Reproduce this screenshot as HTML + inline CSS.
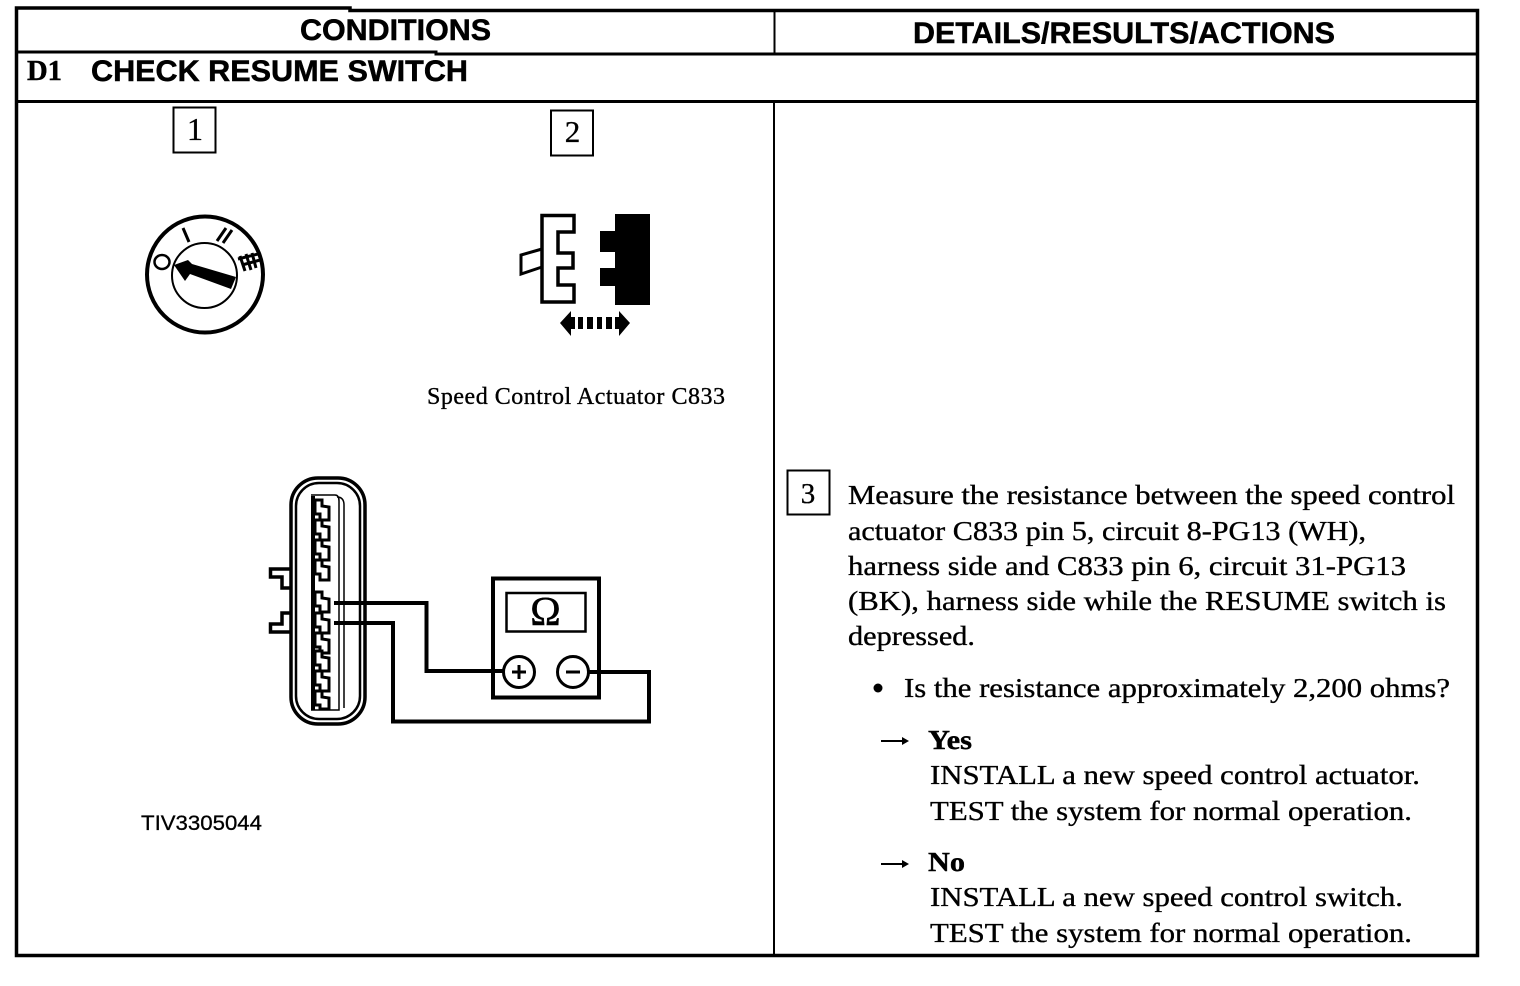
<!DOCTYPE html>
<html>
<head>
<meta charset="utf-8">
<style>
html,body{margin:0;padding:0;background:#fff;width:1520px;height:986px;overflow:hidden}
svg{display:block}
.s{font-family:"Liberation Serif",serif;font-size:27px;fill:#000;stroke:#000;stroke-width:.35px}
.b{font-family:"Liberation Sans",sans-serif;font-weight:bold;font-size:30px;fill:#000;stroke:#000;stroke-width:.5px}
.sb{font-family:"Liberation Serif",serif;font-weight:bold;font-size:27px;fill:#000;stroke:#000;stroke-width:.4px}
.l{fill:none;stroke:#000;stroke-linejoin:miter}
</style>
</head>
<body>
<svg width="1520" height="986" viewBox="0 0 1520 986" xmlns="http://www.w3.org/2000/svg">
<rect width="1520" height="986" fill="#fff"/>

<!-- table frame -->
<path class="l" stroke-width="3.5" d="M16.5 8H350V10.5H1477.5V955.5H16.5Z"/>
<path class="l" stroke-width="3" d="M16 52H436V54H1477M16 101.500H1477"/>
<path class="l" stroke-width="2" d="M774.500 10V53M774 102V955"/>

<!-- headers -->
<text class="b" x="300" y="40" textLength="191" lengthAdjust="spacingAndGlyphs">CONDITIONS</text>
<text class="b" x="913" y="43" textLength="422" lengthAdjust="spacingAndGlyphs">DETAILS/RESULTS/ACTIONS</text>
<text class="sb" x="27" y="80" style="font-size:28px" textLength="35" lengthAdjust="spacingAndGlyphs">D1</text>
<text class="b" x="91" y="81" textLength="377" lengthAdjust="spacingAndGlyphs">CHECK RESUME SWITCH</text>

<!-- numbered boxes -->
<rect class="l" stroke-width="2" x="173.500" y="107.500" width="42" height="45"/>
<text class="s" x="195" y="140" text-anchor="middle" style="font-size:32px">1</text>
<rect class="l" stroke-width="2" x="551" y="110.500" width="42" height="45"/>
<text class="s" x="572.500" y="142" text-anchor="middle" style="font-size:31px">2</text>
<rect class="l" stroke-width="2" x="787.500" y="470.500" width="42" height="44"/>
<text class="s" x="808" y="503" text-anchor="middle" style="font-size:29px">3</text>

<!-- dial -->
<circle class="l" stroke-width="4" cx="205" cy="274.500" r="58"/>
<circle class="l" stroke-width="2" cx="204.500" cy="275.500" r="32.500"/>
<path d="M174 265L188 260L192 264L236 277L231 289L190 274L185 281Z" fill="#000"/>
<ellipse class="l" stroke-width="2.500" cx="162" cy="262" rx="7.500" ry="7"/>
<path class="l" stroke-width="3" d="M183 228L189 242M226 228L217 241M232 230L223 243"/>
<path class="l" stroke-width="3" d="M240 256L245 271M246 254L251 270M252 253L256 268M238 259L258 254M242 265L260 260"/>

<!-- connector 2 -->
<path class="l" stroke-width="3.500" d="M542 215.500H574V232H558V253H573V268H558V285H574V302H542Z"/>
<path class="l" stroke-width="3" d="M542 249L521 255V274L542 267"/>
<path fill="#000" d="M615 214H650V305H615V286H600V268H615V252H600V231H615Z"/>
<path fill="#000" d="M560 323L571 311V336ZM630 323L619 311V336Z"/>
<path fill="#000" d="M571 317H575V329H571ZM578 317H583V329H578ZM587 317H593V329H587ZM597 317H602V329H597ZM606 317H612V329H606ZM615 317H620V329H615Z"/>

<text class="s" x="427" y="404" style="font-size:24px" textLength="298" lengthAdjust="spacing">Speed Control Actuator C833</text>

<!-- harness connector -->
<rect class="l" stroke-width="3.500" x="291" y="478" width="74" height="246" rx="27"/>
<rect class="l" stroke-width="2.500" x="296" y="483" width="64" height="236" rx="23"/>
<path class="l" stroke-width="3.500" d="M290 569H270.500V577H282V588H290M290 613H282V624H270.500V632H290"/>
<path class="l" stroke-width="1.500" d="M337 497Q344 497 344 505V708M311 495H335Q339 495 339 501V710H311"/>
<path class="l" stroke-width="4" d="M313 496V710"/>
<g fill="#fff" stroke="#000" stroke-width="3">
<path d="M315 500H322V506L329 507V520H320V514H315Z"/>
<path d="M315 520H322V526L329 527V540H320V534H315Z"/>
<path d="M315 540H322V546L329 547V560H320V554H315Z"/>
<path d="M315 560H322V566L329 567V580H320V574H315Z"/>
<path d="M315 592H322V598L329 599V612H320V606H315Z"/>
<path d="M315 613H322V619L329 620V633H320V627H315Z"/>
<path d="M315 633H322V639L329 640V653H320V647H315Z"/>
<path d="M315 651H322V657L329 658V671H320V665H315Z"/>
<path d="M315 671H322V677L329 678V691H320V685H315Z"/>
<path d="M315 691H322V697L329 698V709H320V705H315Z"/>
</g>

<!-- wires -->
<path class="l" stroke-width="4" d="M334 603H426.500V671H504"/>
<path class="l" stroke-width="4" d="M334 623H393V721.500H649V672H588"/>

<!-- meter -->
<rect class="l" stroke-width="4" x="493" y="578.500" width="106" height="119"/>
<rect class="l" stroke-width="2.500" x="506.500" y="593" width="79" height="38.500"/>
<text x="545.500" y="625" text-anchor="middle" font-family="Liberation Serif,serif" font-size="41" fill="#000" stroke="#000" stroke-width=".5">Ω</text>
<circle cx="519" cy="672" r="15.500" fill="#fff" stroke="#000" stroke-width="3"/>
<circle cx="573" cy="672" r="15.500" fill="#fff" stroke="#000" stroke-width="3"/>
<path class="l" stroke-width="3" d="M512 672H526M519 665V679M566 672H580"/>

<text x="141" y="830" font-family="Liberation Sans,sans-serif" font-size="21" fill="#000" stroke="#000" stroke-width=".3" textLength="121" lengthAdjust="spacingAndGlyphs">TIV3305044</text>

<!-- right column text -->
<text class="s" x="848" y="504" textLength="607" lengthAdjust="spacingAndGlyphs">Measure the resistance between the speed control</text>
<text class="s" x="848" y="540" textLength="518" lengthAdjust="spacingAndGlyphs">actuator C833 pin 5, circuit 8-PG13 (WH),</text>
<text class="s" x="848" y="575" textLength="558" lengthAdjust="spacingAndGlyphs">harness side and C833 pin 6, circuit 31-PG13</text>
<text class="s" x="848" y="610" textLength="598" lengthAdjust="spacingAndGlyphs">(BK), harness side while the RESUME switch is</text>
<text class="s" x="848" y="645" textLength="127" lengthAdjust="spacingAndGlyphs">depressed.</text>
<circle cx="878" cy="688" r="4.500" fill="#000"/>
<text class="s" x="904" y="697" textLength="546" lengthAdjust="spacingAndGlyphs">Is the resistance approximately 2,200 ohms?</text>

<path class="l" stroke-width="2" d="M881 741H906"/>
<path fill="#000" d="M909 741L902 737V745Z"/>
<text class="sb" x="928" y="749" textLength="44" lengthAdjust="spacingAndGlyphs">Yes</text>
<text class="s" x="930" y="784" textLength="490" lengthAdjust="spacingAndGlyphs">INSTALL a new speed control actuator.</text>
<text class="s" x="930" y="820" textLength="482" lengthAdjust="spacingAndGlyphs">TEST the system for normal operation.</text>

<path class="l" stroke-width="2" d="M881 864H906"/>
<path fill="#000" d="M909 864L902 860V868Z"/>
<text class="sb" x="928" y="871" textLength="37" lengthAdjust="spacingAndGlyphs">No</text>
<text class="s" x="930" y="906" textLength="473" lengthAdjust="spacingAndGlyphs">INSTALL a new speed control switch.</text>
<text class="s" x="930" y="942" textLength="482" lengthAdjust="spacingAndGlyphs">TEST the system for normal operation.</text>
</svg>
</body>
</html>
